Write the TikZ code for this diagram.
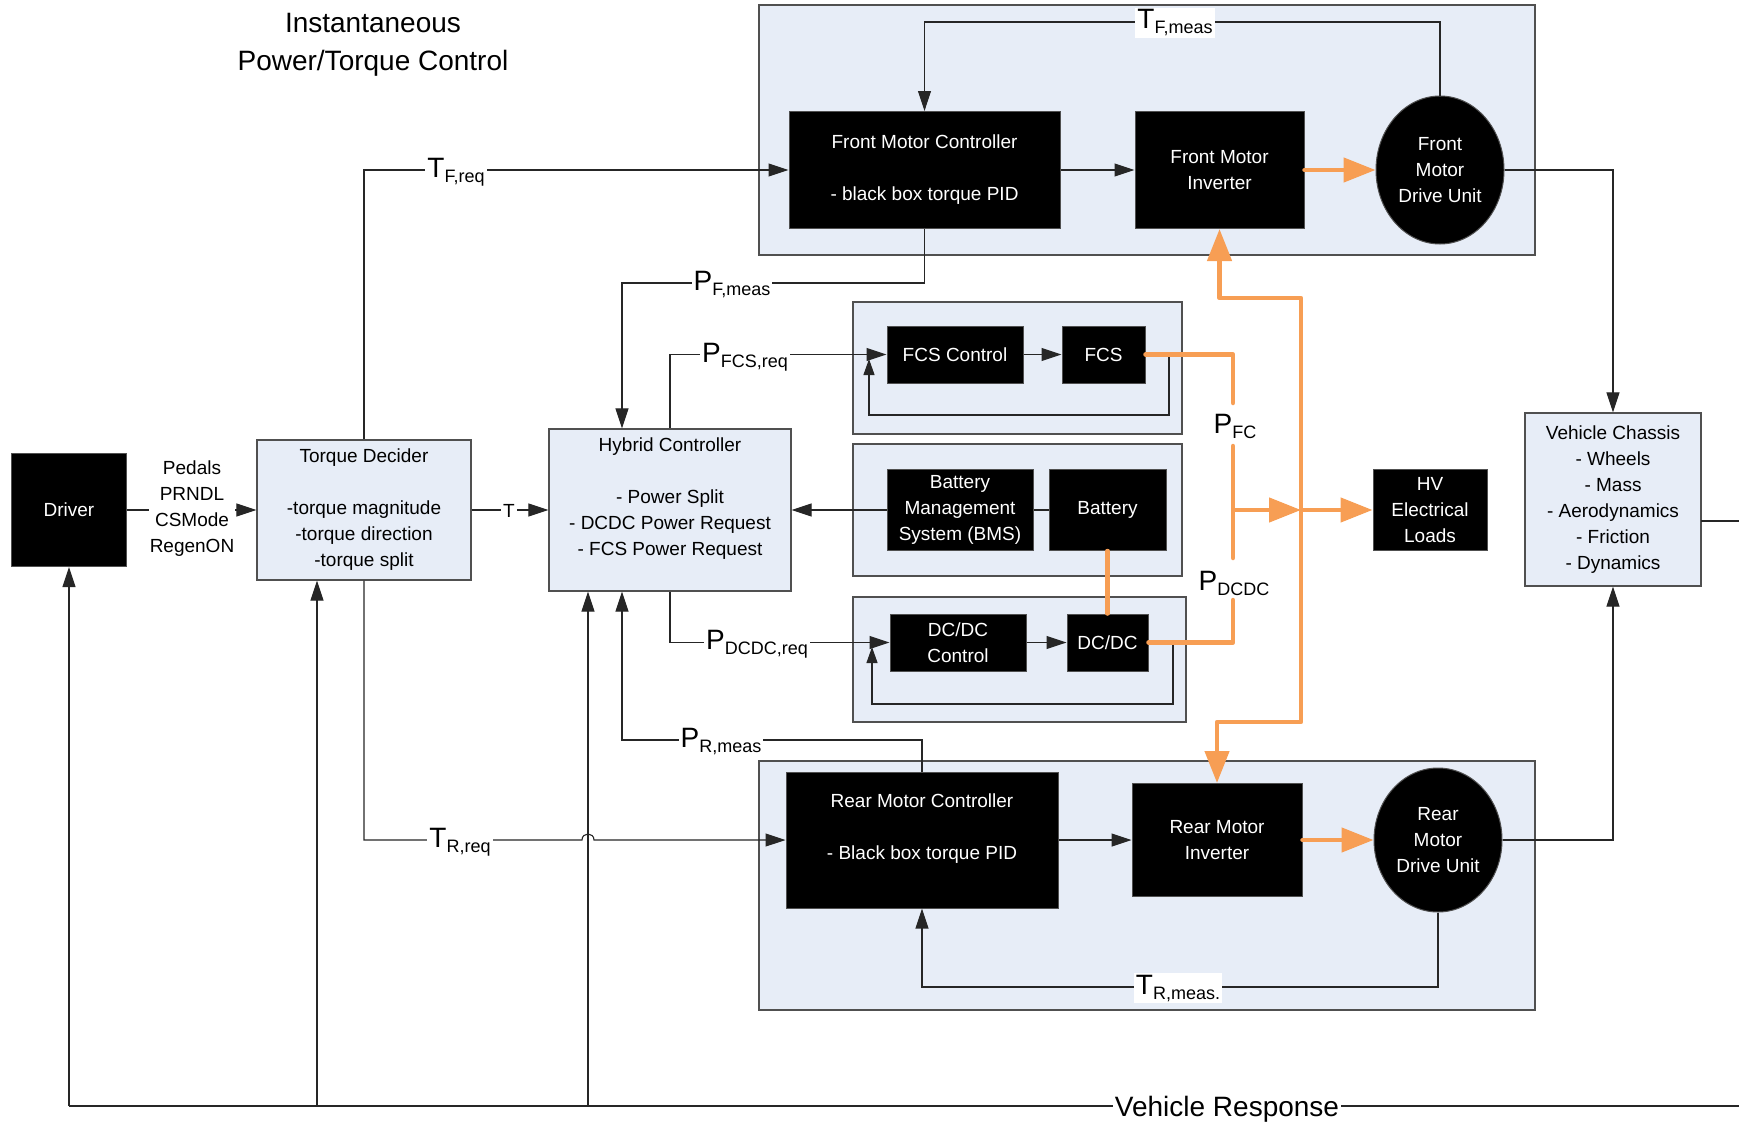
\documentclass[tikz,border=0pt]{standalone}
\usepackage{fontspec}
\setmainfont{Liberation Sans}
\usetikzlibrary{arrows.meta,shapes.geometric,calc}
\definecolor{grpfill}{RGB}{231,237,247}
\definecolor{pwr}{RGB}{247,158,84}
\definecolor{edgec}{RGB}{80,80,80}
\newcommand{\sublab}[2]{{\fontsize{28}{28}\selectfont #1}\raisebox{-5pt}{\fontsize{18}{18}\selectfont #2}}
\begin{document}
\begin{tikzpicture}[x=1pt,y=-1pt,
  every node/.style={font=\fontsize{19}{26}\selectfont, inner sep=0pt},
  blk/.style={draw=edgec, line width=1pt, fill=black, text=white, align=center},
  bluebox/.style={draw=edgec, line width=1.2pt, fill=grpfill, align=center},
  grp/.style={draw=edgec, line width=1.5pt, fill=grpfill},
  motor/.style={ellipse, draw=edgec, line width=1pt, fill=black, text=white, align=center},
  sig/.style={line width=1.1pt, draw=black!85},
  arr/.style={sig, -{Triangle[length=20pt,width=13pt]}},
  pline/.style={line width=4.5pt, draw=pwr, line join=round, line cap=round},
  parr/.style={pline, -{Triangle[length=32pt,width=24pt]}},
  lab/.style={fill=white, inner sep=2pt, anchor=base},
]
\useasboundingbox (0,0) rectangle (1739,1124);

% title
\node[align=center, font=\fontsize{28}{38}\selectfont] (title) at (373,45) {Instantaneous\\Power/Torque Control};

% groups
\node[grp, minimum width=776pt, minimum height=250pt] (fgrp) at (1147,130) {};
\node[grp, minimum width=329pt, minimum height=132pt] (fcsgrp) at (1017.5,368) {};
\node[grp, minimum width=329pt, minimum height=132pt] (batgrp) at (1017.5,510) {};
\node[grp, minimum width=333pt, minimum height=125pt] (dcgrp) at (1019.5,659.5) {};
\node[grp, minimum width=776pt, minimum height=249pt] (rgrp) at (1147,885.5) {};

% blocks
\node[blk, minimum width=115pt, minimum height=113pt] (driver) at (69,510) {Driver};
\node[bluebox, minimum width=214pt, minimum height=140pt] (td) at (364,510) {Torque Decider\\[26pt]-torque magnitude\\-torque direction\\-torque split};
\node[bluebox, minimum width=242pt, minimum height=162pt] (hc) at (670,510) {Hybrid Controller\\[26pt]- Power Split\\- DCDC Power Request\\- FCS Power Request\\~};
\node[blk, minimum width=271pt, minimum height=117pt] (fmc) at (924.5,170) {Front Motor Controller\\[26pt]- black box torque PID};
\node[blk, minimum width=169pt, minimum height=117pt] (fmi) at (1219.5,170) {Front Motor\\Inverter};
\node[motor, minimum width=128pt, minimum height=148pt] (fdu) at (1440,170) {Front\\Motor\\Drive Unit};
\node[blk, minimum width=136pt, minimum height=57pt] (fcsc) at (955,354.5) {FCS Control};
\node[blk, minimum width=83pt, minimum height=57pt] (fcs) at (1103.5,354.5) {FCS};
\node[blk, minimum width=146pt, minimum height=81pt] (bms) at (960,510) {Battery\\Management\\System (BMS)};
\node[blk, minimum width=117pt, minimum height=81pt] (bat) at (1107.5,510) {Battery};
\node[blk, minimum width=136pt, minimum height=57pt] (dcc) at (958,642.5) {DC/DC\\Control};
\node[blk, minimum width=81pt, minimum height=57pt] (dcdc) at (1107.5,642.5) {DC/DC};
\node[blk, minimum width=114pt, minimum height=81pt] (hv) at (1430,510) {HV\\Electrical\\Loads};
\node[bluebox, minimum width=176pt, minimum height=173pt] (vc) at (1613,499.5) {Vehicle Chassis\\- Wheels\\- Mass\\- Aerodynamics\\- Friction\\- Dynamics};
\node[blk, minimum width=272pt, minimum height=136pt] (rmc) at (922,840) {Rear Motor Controller\\[26pt]- Black box torque PID\\~};
\node[blk, minimum width=170pt, minimum height=113pt] (rmi) at (1217,840) {Rear Motor\\Inverter};
\node[motor, minimum width=128pt, minimum height=144pt] (rdu) at (1438,840) {Rear\\Motor\\Drive Unit};

% helper coordinates
\coordinate (ytop) at (0,22);
\coordinate (ybot) at (0,987);
\coordinate (pfm) at (622,283);
\coordinate (prm) at (622,740);
\coordinate (hopL) at (582,840);
\coordinate (hopR) at (594,840);
\coordinate (fcsfb) at (1169,354.5);
\coordinate (fcsfbL) at (869,415);
\coordinate (fcsfbT) at (869,359);
\coordinate (dcfb) at (1173,642.5);
\coordinate (dcfbL) at (872,704);
\coordinate (dcfbT) at (872,647);
\coordinate (vcout) at (1701,521);
\coordinate (edgeR) at (1739,521);
\coordinate (brR) at (1739,1106);
\coordinate (brL) at (69,1106);
\coordinate (fb2) at (317,1106);
\coordinate (fb3) at (588,1106);
\coordinate (fcX) at (1233,354.5);
\coordinate (fcA) at (1233,403);
\coordinate (fcB) at (1233,446);
\coordinate (busJ) at (1233,510);
\coordinate (bus) at (1301,510);
\coordinate (busT) at (1301,298);
\coordinate (busB) at (1301,722);
\coordinate (dcX) at (1233,642.5);
\coordinate (dcA) at (1233,600);
\coordinate (dcB) at (1233,558);

% signal connectors
\draw[arr] (driver.east) -- (td.west);
\draw[arr] (td.east) -- (hc.west);
\draw[arr] (td.north) |- (fmc.west);
\draw[arr] (td.south) |- (hopL) .. controls (582,832) and (594,832) .. (hopR) -- (rmc.west);
\draw[arr] (fmc.east) -- (fmi.west);
\draw[arr] (fdu.north) -- (fdu.north |- ytop) -| (fmc.north);
\draw[arr] (fdu.east) -| (vc.north);
\draw[arr] (rdu.east) -| (vc.south);
\draw[arr] (rdu.south) -- (rdu.south |- ybot) -| (rmc.south);
\draw[arr] (rmc.east) -- (rmi.west);
\draw[arr] (fmc.south) |- (pfm) -- (pfm |- hc.north);
\draw[arr] (hc.north) |- (fcsc.west);
\draw[arr] (fcsc.east) -- (fcs.west);
\draw[arr, -{Triangle[length=16pt,width=11pt]}] (fcsfb) |- (fcsfbL) -- (fcsfbT);
\draw[arr] (hc.south) |- (dcc.west);
\draw[arr] (dcc.east) -- (dcdc.west);
\draw[arr, -{Triangle[length=16pt,width=11pt]}] (dcfb) |- (dcfbL) -- (dcfbT);
\draw[arr] (bms.west) -- (hc.east);
\draw[sig] (bms.east) -- (bat.west);
\draw[arr] (rmc.north) |- (prm) -- (prm |- hc.south);
\draw[sig] (vcout) -- (edgeR);
\draw[sig] (brR) -- (brL);
\draw[arr] (brL) -- (driver.south);
\draw[arr] (fb2) -- (fb2 |- td.south);
\draw[arr] (fb3) -- (fb3 |- hc.south);

% power connectors
\draw[pline] (bat.south) -- (dcdc.north);
\draw[pline] (fcs.east) -- (fcX) -- (fcA);
\draw[parr] (fcB) -- (busJ) -- (bus);
\draw[pline] (dcdc.east) -- (dcX) -- (dcA);
\draw[pline] (dcB) -- (busJ);
\draw[parr] (bus) -- (busT) -| (fmi.south);
\draw[parr] (bus) -- (busB) -| (rmi.north);
\draw[parr] (bus) -- (hv.west);
\draw[parr] (fmi.east) -- (fdu.west);
\draw[parr] (rmi.east) -- (rdu.west);

% labels
\node[fill=white, inner sep=1pt, align=center] (ldrv) at (192,509) {Pedals\\PRNDL\\CSMode\\RegenON};
\node[lab] (lT) at (509,517) {T};
\node[lab] (lTFreq) at (456,177) {\sublab{T}{F,req}};
\node[lab] (lPFmeas) at (732,290) {\sublab{P}{F,meas}};
\node[lab] (lPFCSreq) at (745,362) {\sublab{P}{FCS,req}};
\node[lab] (lPDCDCreq) at (757,649) {\sublab{P}{DCDC,req}};
\node[lab] (lPRmeas) at (721,747) {\sublab{P}{R,meas}};
\node[lab] (lTRreq) at (460,847) {\sublab{T}{R,req}};
\node[lab] (lTFmeas) at (1175,29) {\sublab{T}{F,meas}};
\node[lab] (lTRmeas) at (1178,994) {\sublab{T}{R,meas.}};
\node[lab, fill=none] (lPFC) at (1235,433) {\sublab{P}{FC}};
\node[lab, fill=none] (lPDCDC) at (1234,590) {\sublab{P}{DCDC}};
\node[lab, font=\fontsize{28}{28}\selectfont] (lVR) at (1227,1116) {Vehicle Response};
\end{tikzpicture}
\end{document}
